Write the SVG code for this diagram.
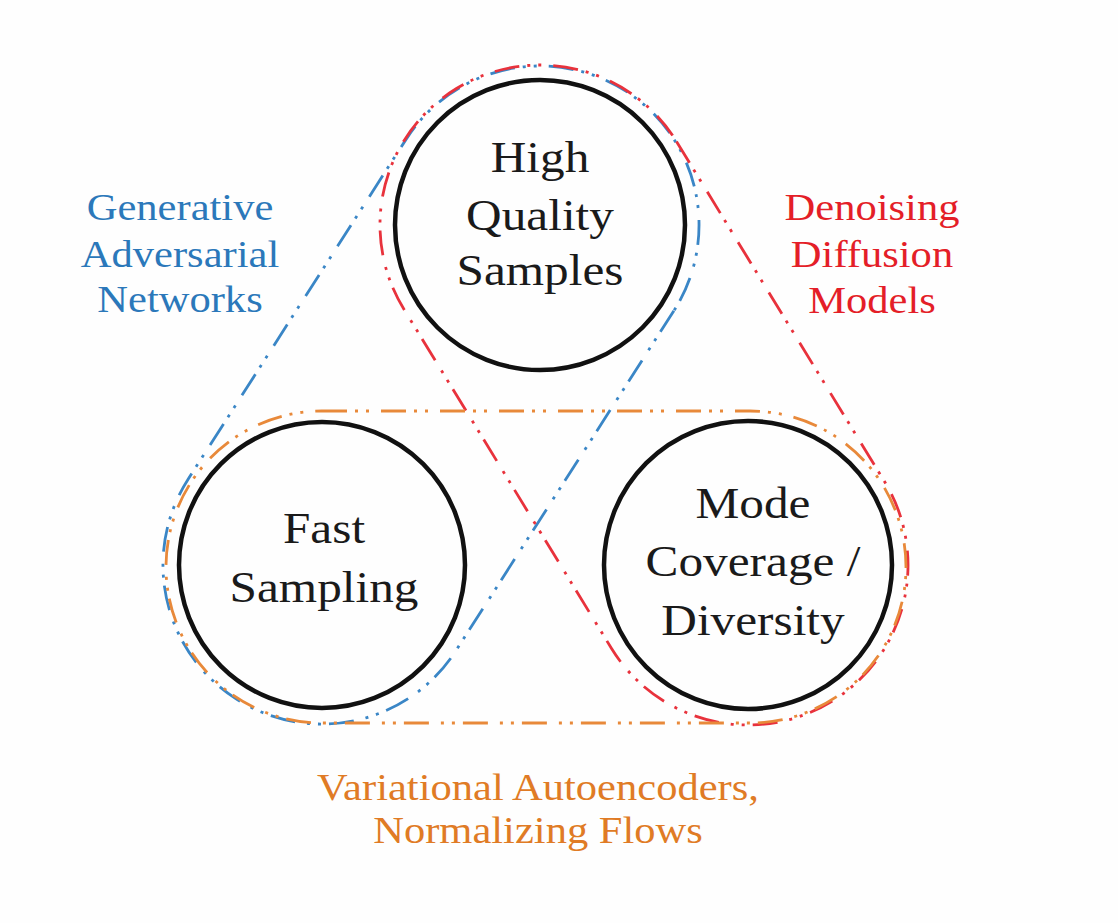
<svg xmlns="http://www.w3.org/2000/svg" width="1118" height="923" viewBox="0 0 1118 923">
<style>
.node circle{fill:none;stroke:#111;stroke-width:4.5}
.lbl{font-family:"Liberation Serif","Times New Roman",serif;text-anchor:middle}
.nl{font-size:44px;fill:#1a1a1a}
.gl{font-size:38px}
.grp{fill:none;stroke-width:2.8;stroke-dasharray:25 8 3 8 3 12;stroke-linecap:butt}
</style>
<rect width="1118" height="923" fill="#fefefe"/>
<g id="connectors">
<rect id="gan-outline" class="grp" stroke="#3a86c6" x="-361" y="-159" width="722" height="318" rx="159" transform="translate(431,395) rotate(122.67)"/>
<rect id="ddm-outline" class="grp" stroke="#e8323c" x="-359.3" y="-160" width="718.6" height="320" rx="160" transform="translate(644,395) rotate(58.54)"/>
<rect id="vae-outline" class="grp" stroke="#e8893a" x="166" y="411" width="740" height="312" rx="156"/>
</g>
<g id="node-high-quality" class="node">
<circle cx="540" cy="225" r="145"/>
<g class="lbl nl" transform="translate(540,0) scale(1.12,1)">
<text x="0" y="172">High</text>
<text x="0" y="230">Quality</text>
<text x="0" y="285">Samples</text>
</g>
</g>
<g id="node-fast-sampling" class="node">
<circle cx="322" cy="565" r="143"/>
<g class="lbl nl" transform="translate(324,0) scale(1.12,1)">
<text x="0" y="543">Fast</text>
<text x="0" y="602">Sampling</text>
</g>
</g>
<g id="node-mode-coverage" class="node">
<circle cx="748" cy="565" r="144"/>
<g class="lbl nl" transform="translate(753,0) scale(1.12,1)">
<text x="0" y="518">Mode</text>
<text x="0" y="576">Coverage /</text>
<text x="0" y="635">Diversity</text>
</g>
</g>
<g id="label-gan" class="lbl gl" fill="#2b78ba" transform="translate(180,0) scale(1.12,1)">
<text x="0" y="220">Generative</text>
<text x="0" y="267">Adversarial</text>
<text x="0" y="312">Networks</text>
</g>
<g id="label-ddm" class="lbl gl" fill="#e41e28" transform="translate(872,0) scale(1.12,1)">
<text x="0" y="220">Denoising</text>
<text x="0" y="267">Diffusion</text>
<text x="0" y="313">Models</text>
</g>
<g id="label-vae" class="lbl gl" fill="#e07b25" transform="translate(538,0) scale(1.12,1)">
<text x="0" y="800">Variational Autoencoders,</text>
<text x="0" y="843">Normalizing Flows</text>
</g>
</svg>
